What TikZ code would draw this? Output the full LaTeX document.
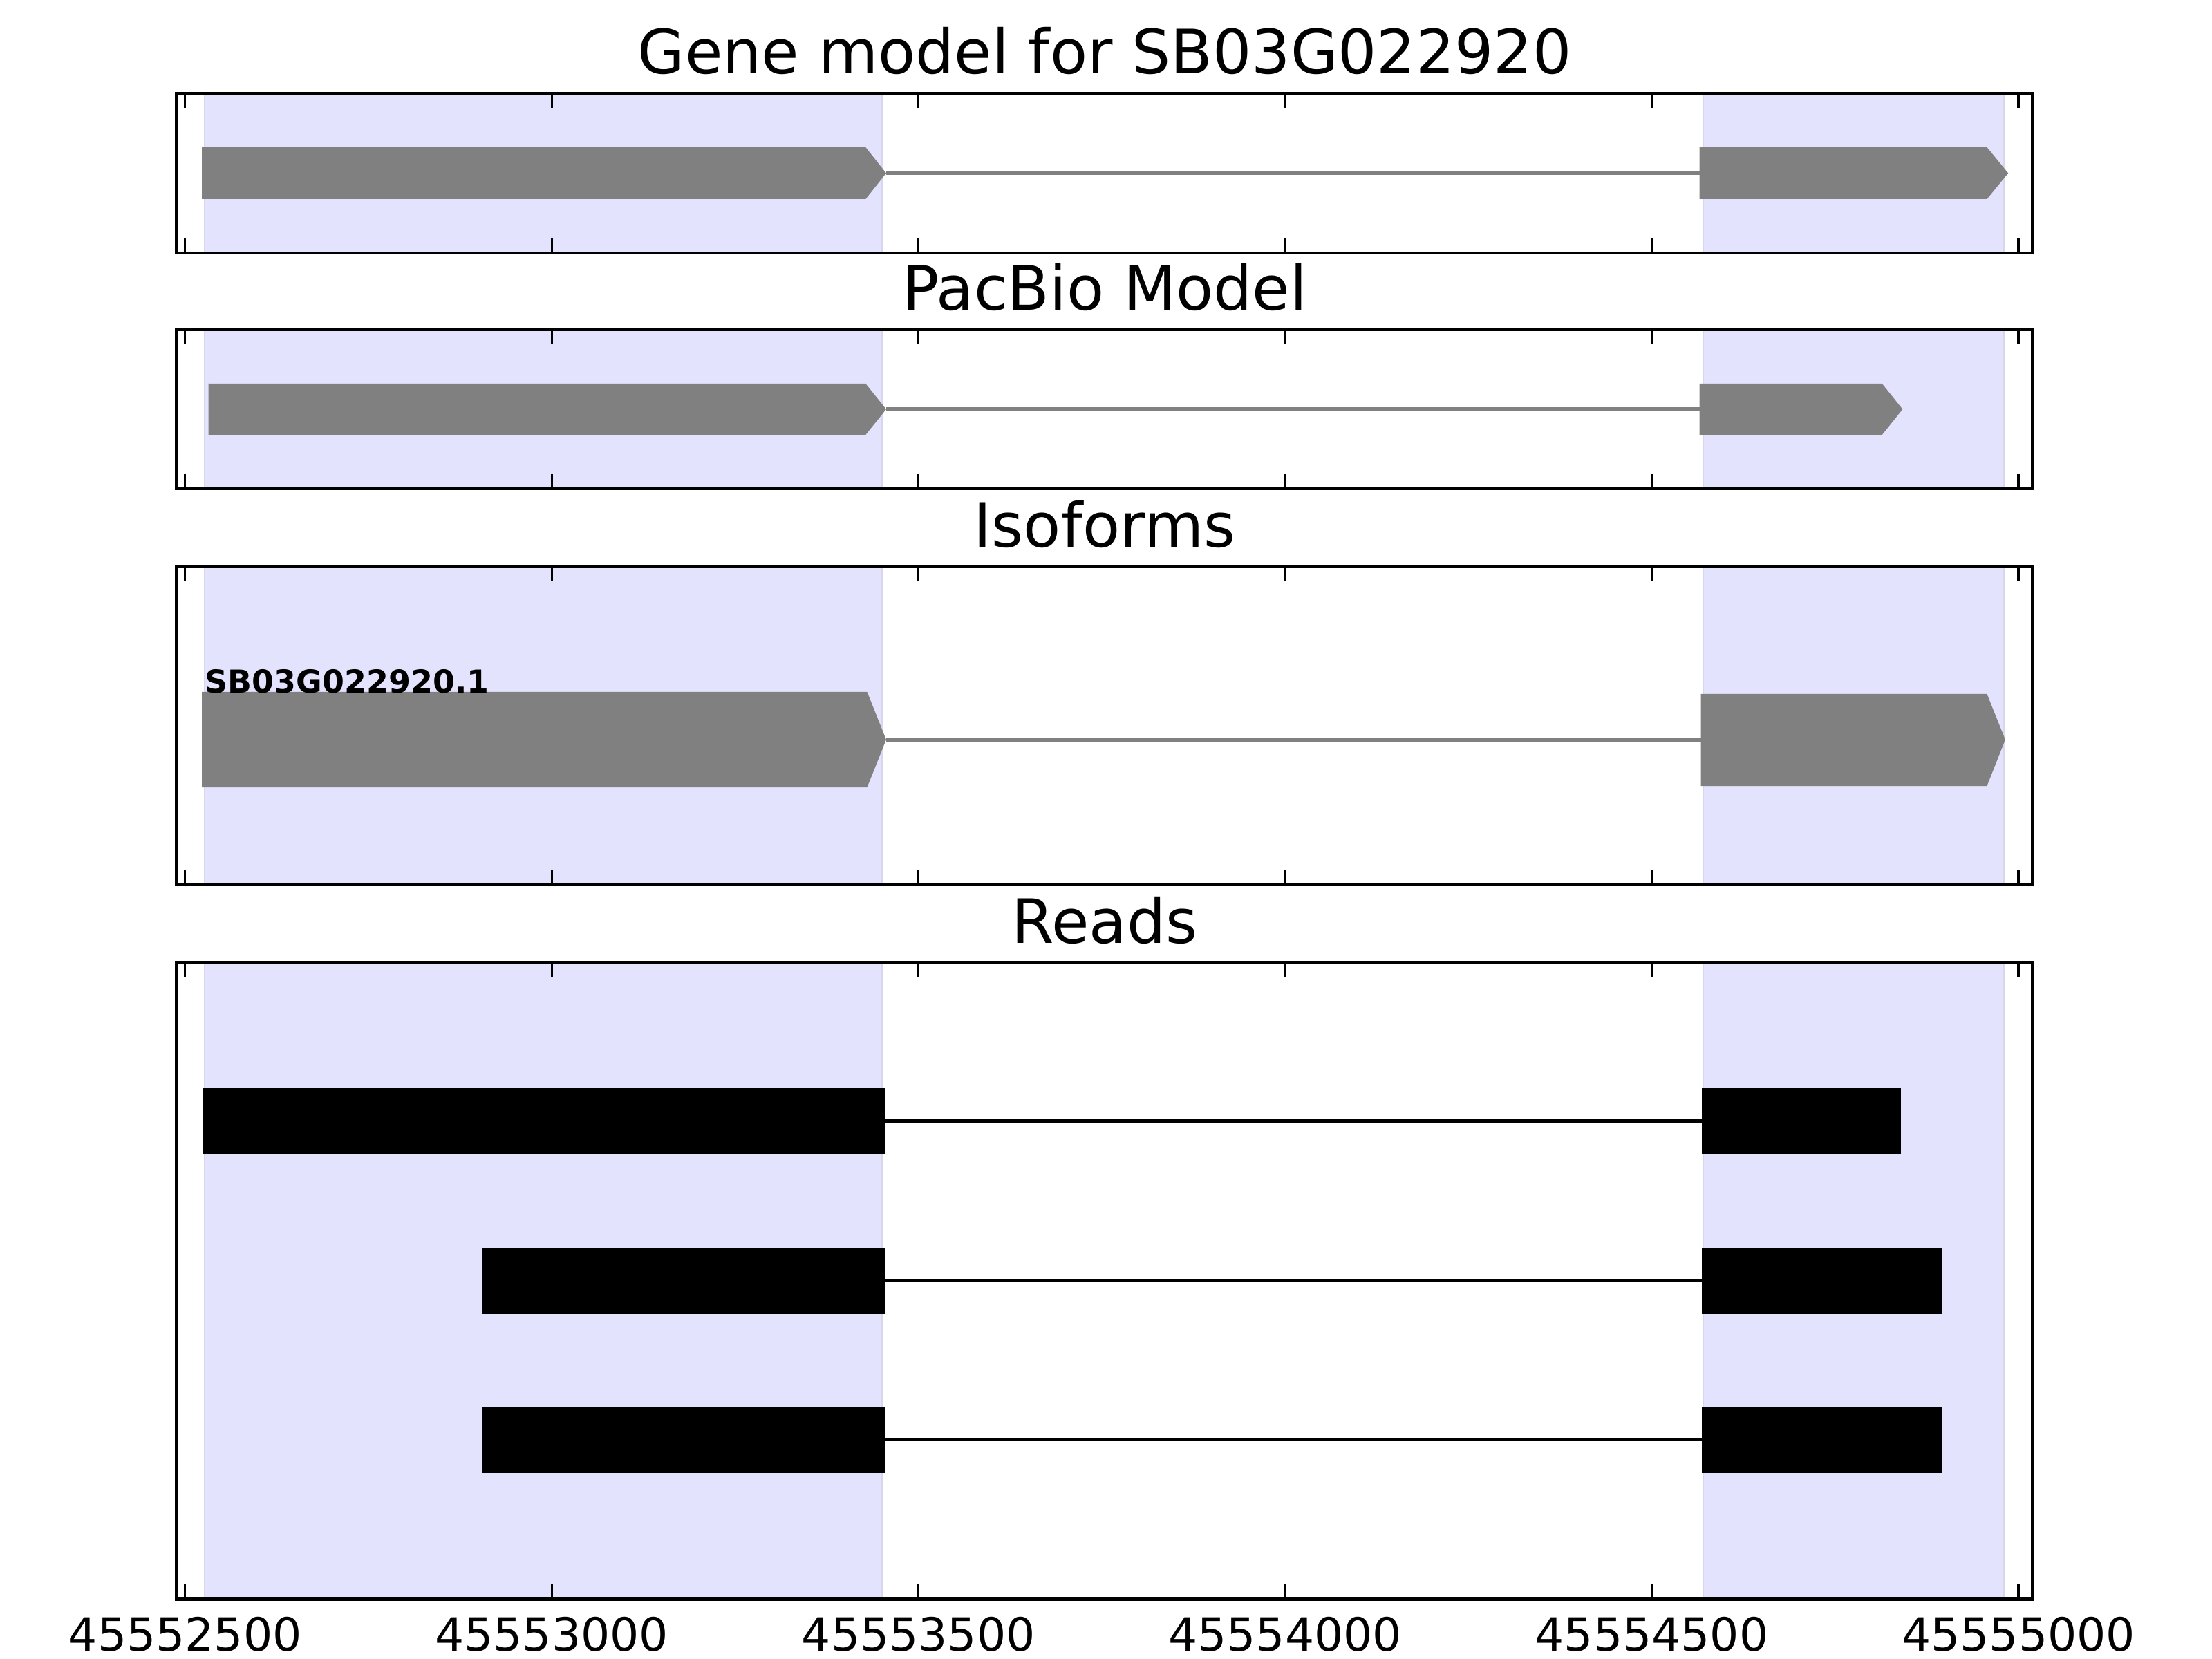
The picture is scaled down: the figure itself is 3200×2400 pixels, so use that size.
\documentclass[tikz,border=0pt]{standalone}
\usepackage{fontspec}
\setmainfont{DejaVu Sans}
\usetikzlibrary{positioning,calc}
\definecolor{spanblue}{RGB}{227,227,253}
\definecolor{spanedge}{RGB}{214,214,236}

\begin{document}
\begin{tikzpicture}[
  x=0.0025in, y=-0.0025in,
  frame/.style={draw, line width=0.9pt},
  span/.style={fill=spanblue, draw=spanedge, line width=0.4pt},
  exon/.style={fill=gray, draw=none},
  intron/.style={draw=gray, line width=1pt},
  readbox/.style={fill=black, draw=none},
  readline/.style={draw=black, line width=1pt},
  tickmark/.style={line width=0.6pt},
  ttl/.style={anchor=base, inner sep=0pt, font=\fontsize{16}{19}\selectfont},
  ticklab/.style={anchor=base, inner sep=0pt, font=\fontsize{12}{14}\selectfont},
  isolab/.style={anchor=base west, inner sep=0pt, font=\fontsize{8.3}{10}\selectfont\bfseries}
]
\useasboundingbox (0,0) rectangle (3200,2400);

% x in bp from 45552500, y in pixels downwards
\begin{scope}[xshift=0.67in, x=0.002655in]

  % exon spans
  \foreach \top/\bot in {135/366, 477/707, 820/1280, 1392/2313} {
    \filldraw[span] (27,\top) rectangle (950,\bot);
    \filldraw[span] (2070,\top) rectangle (2480,\bot);
  }

  % gene model
  \fill[exon] (23,213) -- (928,213) -- (956,250.5) coordinate (g1) -- (928,288) -- (23,288) -- cycle;
  \fill[exon] (2065,250.5) coordinate (g2) -- (2065,213) -- (2457,213) -- (2486,250.5) -- (2457,288) -- (2065,288) -- cycle;
  \draw[intron] (g1) -- (g2);

  % pacbio model
  \fill[exon] (32,555) -- (928,555) -- (956,592) coordinate (p1) -- (928,629) -- (32,629) -- cycle;
  \fill[exon] (2065,592) coordinate (p2) -- (2065,555) -- (2314,555) -- (2342,592) -- (2314,629) -- (2065,629) -- cycle;
  \draw[intron] (p1) -- (p2);

  % isoforms
  \fill[exon] (23,1001) -- (930,1001) -- (956,1070) coordinate (i1) -- (930,1139) -- (23,1139) -- cycle;
  \fill[exon] (2067,1070) coordinate (i2) -- (2067,1004) -- (2457,1004) -- (2482,1070) -- (2457,1137) -- (2067,1137) -- cycle;
  \draw[intron] (i1) -- (i2);
  \node[isolab] (iso) at (26.4,1003) {SB03G022920.1};

  % reads
  \foreach \s/\e/\c [count=\r] in {24.5/2340/1622, 405/2395.5/1852.5, 405/2395.5/2082.5} {
    \fill[readbox] (\s,\c-48) rectangle (955,\c+48);
    \fill[readbox] (2068,\c-48) rectangle (\e,\c+48);
    \coordinate (rl\r) at (955,\c);
    \coordinate (rr\r) at (2068,\c);
    \draw[readline] (rl\r) -- (rr\r);
  }

  % frames, ticks, titles
  \foreach \top/\bot/\name [count=\i] in {135/366/Gene model for SB03G022920,
      477/707/PacBio Model, 820/1280/Isoforms, 1392/2313/Reads} {
    \draw[frame] (-11.3,\top) rectangle (2519.4,\bot);
    \foreach \t in {0,500,...,2500} {
      \draw[tickmark] (\t,\top) -- ++(0,21);
      \draw[tickmark] (\t,\bot) -- ++(0,-21);
    }
    \node[ttl] (title\i) at (1254,\top-28) {\name};
  }

  % axis labels
  \foreach \t/\lab in {0/45552500, 500/45553000, 1000/45553500,
      1500/45554000, 2000/45554500, 2500/45555000} {
    \node[ticklab] at (\t,2388) {\lab};
  }
\end{scope}
\end{tikzpicture}
\end{document}
